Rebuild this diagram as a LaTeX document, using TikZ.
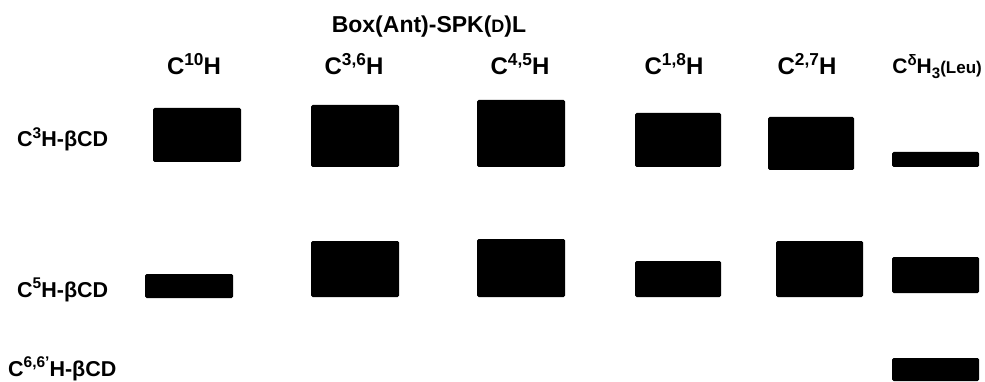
\documentclass[tikz,border=0pt]{standalone}
\usepackage{fontspec}
\setmainfont{Liberation Sans}
\newcommand{\Sup}[1]{\raisebox{0.40em}{\scalebox{0.72}{#1}}}
\newcommand{\Sub}[1]{\raisebox{-0.22em}{\scalebox{0.72}{#1}}}
\begin{document}
\begin{tikzpicture}[x=1pt,y=-1pt,
  blk/.style={fill=black,rounded corners=1.5pt},
  title/.style={font=\bfseries\fontsize{23}{27}\selectfont,anchor=base,inner sep=0pt},
  colhead/.style={font=\bfseries\fontsize{24}{28}\selectfont,anchor=base,inner sep=0pt},
  rowhead/.style={font=\bfseries\fontsize{21.5}{25}\selectfont,anchor=base west,inner sep=0pt}]
\useasboundingbox[fill=white] (0,0) rectangle (985,382);
% title
\node[title] (ttl) at (429,33) {Box(Ant)-SPK({\fontsize{18}{22}\selectfont D})L};
% column headers
\node[colhead] (h1) at (194,75) {C\Sup{10}H};
\node[colhead] (h2) at (354,75) {C\Sup{3,6}H};
\node[colhead] (h3) at (520,75) {C\Sup{4,5}H};
\node[colhead] (h4) at (674,75) {C\Sup{1,8}H};
\node[colhead] (h5) at (807,75) {C\Sup{2,7}H};
\node[font=\bfseries\fontsize{21}{26}\selectfont,anchor=base east,inner sep=0pt] (h6) at (982,74) {C\Sup{δ}H\Sub{3}{\fontsize{17}{22}\selectfont(Leu)}};
% row headers
\node[rowhead] (r1) at (17,147) {C\Sup{3}H-βCD};
\node[rowhead] (r2) at (17,297) {C\Sup{5}H-βCD};
\node[rowhead] (r3) at (8,376) {C\Sup{6,6'}H-βCD};
% row 1
\fill[blk] (153,108) rectangle (241,162);
\fill[blk] (311,105) rectangle (399,167);
\fill[blk] (477,100) rectangle (565,167);
\fill[blk] (635,113) rectangle (721,167);
\fill[blk] (768,117) rectangle (854,170);
\fill[blk] (892,152) rectangle (979,167);
% row 2
\fill[blk] (145,274) rectangle (233,298);
\fill[blk] (311,241) rectangle (399,297);
\fill[blk] (477,239) rectangle (565,297);
\fill[blk] (635,261) rectangle (721,297);
\fill[blk] (776,241) rectangle (863,297);
\fill[blk] (892,257) rectangle (979,293);
% row 3
\fill[blk] (892,358) rectangle (979,381);
\end{tikzpicture}
\end{document}
